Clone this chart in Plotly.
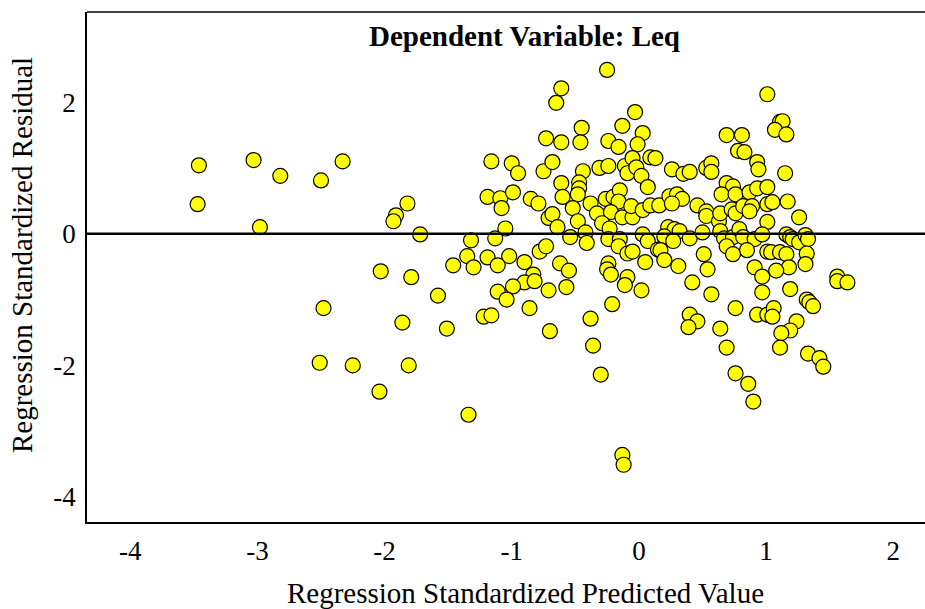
import plotly.graph_objects as go

# Regression standardized predicted values (x) and residuals (y)
pred = [
    -3.46, -3.03, -2.82, -2.50, -2.33, -3.47, -2.98, -2.03, -2.48, -2.51, -2.25, -2.04,
    -1.82, -1.91, -1.93, -1.72, -1.16, -1.00, -0.95, -1.19, -1.09, -1.08, -0.99, -0.85,
    -0.79, -0.75, -0.71, -1.05, -1.13, -1.32, -0.78, -0.73, -1.35, -1.19, -1.02, -0.90,
    -1.46, -1.30, -1.11, -1.79, -1.58, -0.83, -0.90, -0.82, -0.99, -1.11, -1.04, -0.71,
    -0.86, -1.22, -1.16, -1.86, -1.51, -0.70, -1.81, -1.34,
    -0.25, -0.61, -0.65, -0.03, -0.45, -0.13, -0.73, -0.61, -0.46, -0.24, -0.16, 0.03,
    -0.01, 0.09, 0.13, -0.68, -0.44, -0.31, -0.24, -0.11, -0.05, -0.09, -0.02, 0.02,
    0.07, -0.61, -0.47, -0.47, -0.48, -0.60, -0.26, -0.20, -0.15, -0.16, -0.38, -0.52,
    -0.33, -0.22, -0.13, -0.05, -0.06, 0.03, 0.09, 0.16, -0.68, -0.64, -0.48, -0.29,
    -0.23, -0.42, -0.54, -0.41, -0.24, -0.15, 0.03, 0.07, -0.16, -0.09, -0.05, 0.15,
    -0.62, -0.24, 0.05, -0.55, -0.57, -0.25, -0.22, -0.09, -0.11, 0.02, -0.21, -0.38,
    -0.36, -0.30, -0.13, -0.12,
    1.01, 0.69, 0.81, 0.78, 0.83, 0.93, 0.94, 0.26, 0.35, 0.40, 0.53, 0.57,
    0.57, 0.69, 0.74, 0.65, 0.76, 0.87, 0.93, 1.01, 0.24, 0.30, 0.34, 0.26,
    0.46, 0.53, 0.53, 0.63, 0.64, 0.73, 0.76, 0.82, 0.89, 0.87, 1.01, 1.05,
    1.01, 0.23, 0.28, 0.32, 0.20, 0.27, 0.40, 0.50, 0.64, 0.67, 0.74, 0.79,
    0.82, 0.91, 0.97, 0.17, 0.69, 0.85, 0.51, 1.01, 0.74, 0.20, 0.31, 0.54,
    0.91, 0.97, 0.97, 0.42, 0.57, 0.76, 0.93, 1.01, 0.40, 0.46, 0.39, 0.64,
    0.69, 0.76, 0.86, 0.90,
    1.11, 1.13, 1.07, 1.16, 1.15, 1.17, 1.26, 1.16, 1.19, 1.21, 1.26, 1.31,
    1.33, 1.04, 1.11, 1.16, 1.32, 1.31, 1.18, 1.08, 1.19, 1.32, 1.34, 1.37,
    1.56, 1.56, 1.64, 1.06, 1.05, 1.24, 1.19, 1.12, 1.11, 1.33, 1.42, 1.45,
]
resid = [
    1.04, 1.12, 0.88, 0.81, 1.10, 0.45, 0.10, -0.57, -1.13, -1.96, -2.00, -2.40,
    0.46, 0.28, 0.19, -0.01, 1.10, 1.07, 0.92, 0.56, 0.54, 0.39, 0.63, 0.53,
    0.46, 0.95, 0.24, 0.08, -0.07, -0.10, -0.27, -0.19, -0.34, -0.36, -0.34, -0.43,
    -0.48, -0.51, -0.48, -0.66, -0.94, -0.62, -0.74, -0.72, -0.80, -0.88, -1.00, -0.86,
    -1.13, -1.26, -1.24, -1.35, -1.44, -1.48, -2.00, -2.75,
    2.49, 2.21, 1.99, 1.85, 1.61, 1.64, 1.45, 1.39, 1.39, 1.41, 1.32, 1.53,
    1.36, 1.16, 1.15, 1.09, 0.95, 1.00, 1.03, 1.03, 1.15, 0.92, 1.01, 0.88,
    0.71, 0.77, 0.78, 0.69, 0.60, 0.56, 0.53, 0.56, 0.66, 0.49, 0.46, 0.39,
    0.31, 0.33, 0.25, 0.25, 0.42, 0.36, 0.43, 0.43, 0.30, 0.10, 0.19, 0.16,
    0.08, 0.02, -0.05, -0.14, -0.08, -0.08, -0.01, -0.11, -0.19, -0.30, -0.27, -0.24,
    -0.45, -0.45, -0.43, -0.56, -0.81, -0.54, -0.62, -0.66, -0.78, -0.86, -1.07, -1.29,
    -1.70, -2.14, -3.36, -3.51,
    2.12, 1.50, 1.50, 1.26, 1.24, 1.09, 0.98, 0.98, 0.91, 0.94, 1.00, 1.07,
    0.94, 0.77, 0.72, 0.60, 0.60, 0.63, 0.69, 0.71, 0.57, 0.60, 0.53, 0.46,
    0.43, 0.34, 0.27, 0.19, 0.31, 0.37, 0.31, 0.42, 0.42, 0.34, 0.45, 0.48,
    0.18, 0.10, 0.07, 0.04, -0.04, -0.11, -0.07, 0.02, 0.04, -0.07, -0.05, 0.07,
    -0.05, -0.08, -0.01, -0.25, -0.19, -0.25, -0.31, -0.27, -0.31, -0.40, -0.49, -0.54,
    -0.51, -0.65, -0.89, -0.74, -0.92, -1.13, -1.23, -1.23, -1.23, -1.33, -1.42, -1.44,
    -1.73, -2.12, -2.28, -2.55,
    1.70, 1.71, 1.58, 1.51, 0.92, 0.49, 0.25, -0.01, -0.05, -0.08, -0.13, -0.02,
    -0.08, -0.28, -0.28, -0.31, -0.30, -0.46, -0.51, -0.56, -0.84, -1.00, -1.04, -1.10,
    -0.65, -0.72, -0.74, -1.13, -1.26, -1.33, -1.47, -1.51, -1.73, -1.82, -1.89, -2.02,
]

x_ticks = [-4, -3, -2, -1, 0, 1, 2]
y_ticks = [-4, -2, 0, 2]
x_range = [-4.34, 2.25]
y_range = [-4.38, 3.37]

title_text = "Dependent Variable: Leq"
x_title = "Regression Standardized Predicted Value"
y_title = "Regression Standardized Residual"

FONT = "Liberation Serif"

fig = go.Figure()
fig.add_trace(go.Scatter(
    x=pred, y=resid, mode="markers",
    marker=dict(size=15, color="#FFFF00", line=dict(color="#000000", width=1.2)),
    hoverinfo="x+y", showlegend=False,
))

fig.update_layout(
    width=925, height=609,
    margin=dict(l=87, r=0, t=12, b=87),
    paper_bgcolor="white", plot_bgcolor="white",
    font=dict(family=FONT, color="black"),
    xaxis=dict(range=x_range, tickvals=x_ticks, ticktext=[str(v) for v in x_ticks],
               showgrid=False, zeroline=False, showline=True, linecolor="black",
               linewidth=1.5, ticks="", tickfont=dict(size=27, family=FONT, color="black"),
               ticklabelstandoff=4),
    yaxis=dict(range=y_range, tickvals=y_ticks, ticktext=[str(v) for v in y_ticks],
               showgrid=False, zeroline=False, showline=True, linecolor="black",
               linewidth=1.5, ticks="", tickfont=dict(size=27, family=FONT, color="black"),
               ticklabelstandoff=4),
    shapes=[
        dict(type="line", xref="paper", yref="y", x0=0, x1=1, y0=0, y1=0,
             line=dict(color="black", width=2.5)),
        dict(type="line", xref="paper", yref="paper", x0=0, x1=1, y0=1, y1=1,
             line=dict(color="black", width=1.5)),
    ],
    annotations=[
        dict(text="<b>" + title_text + "</b>", xref="paper", yref="paper",
             x=0.5215, y=0.952, showarrow=False, xanchor="center", yanchor="middle",
             font=dict(size=29, family=FONT, color="black")),
        dict(text=x_title, xref="paper", yref="paper", x=0.5227, y=-0.139,
             showarrow=False, xanchor="center", yanchor="middle",
             font=dict(size=29, family=FONT, color="black")),
        dict(text=y_title, xref="paper", yref="paper", x=-0.0775, y=0.5235,
             showarrow=False, xanchor="center", yanchor="middle", textangle=-90,
             font=dict(size=29, family=FONT, color="black")),
    ],
)

fig.write_html("out.html")
